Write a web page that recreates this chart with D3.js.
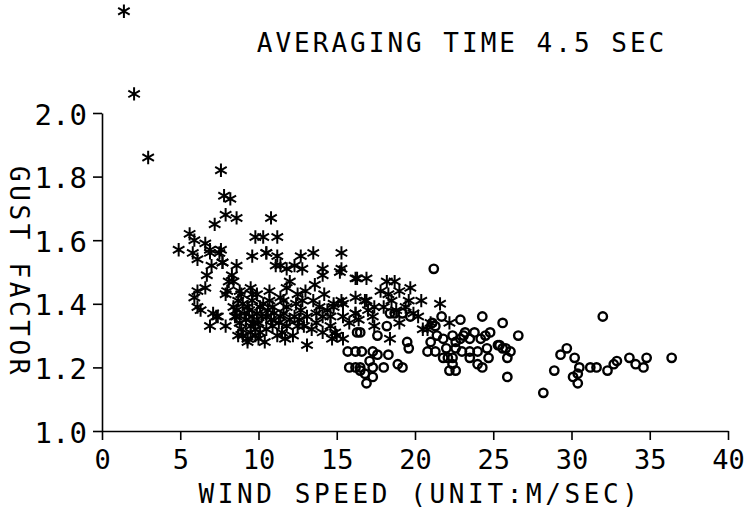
<html>
<head>
<style>
    body { margin: 0; background: #fff; }
    text { font-family: "DejaVu Sans Mono", monospace; fill: #000; }
</style>
</head>
<body>
<script src="https://d3js.org/d3.v7.min.js"></script>
<script>

    // gust factor vs mean wind speed, averaging time 4.5 s
    var title = "AVERAGING TIME 4.5 SEC";
    var xTitle = "WIND SPEED (UNIT:M/SEC)";
    var yTitle = "GUST FACTOR";
    var xTicks = [0, 5, 10, 15, 20, 25, 30, 35, 40];
    var yTicks = [1.0, 1.2, 1.4, 1.6, 1.8, 2.0];

    // asterisks: [wind speed, gust factor]
    var stars = [
        [1.4, 2.32], [2.05, 2.06], [2.95, 1.86],
        [7.6, 1.82], [7.8, 1.74], [8.2, 1.73], [7.9, 1.68], [8.6, 1.67], [7.2, 1.65],
        [10.8, 1.67], [5.6, 1.62], [5.9, 1.60], [9.8, 1.61], [10.3, 1.61], [11.2, 1.61],
        [4.9, 1.57], [6.6, 1.59], [6.9, 1.57], [7.6, 1.57], [9.6, 1.55], [10.5, 1.56],
        [11.2, 1.55], [12.7, 1.55], [13.5, 1.56], [5.8, 1.56], [6.1, 1.54], [7.7, 1.53],
        [7.0, 1.52], [8.6, 1.52], [8.3, 1.49], [6.7, 1.49], [8.4, 1.47], [6.6, 1.45],
        [8.0, 1.44], [6.1, 1.44], [5.9, 1.42], [6.1, 1.39], [6.3, 1.38], [8.8, 1.44],
        [7.1, 1.37], [7.4, 1.36], [6.9, 1.33], [7.9, 1.33], [8.6, 1.36], [9.5, 1.45],
        [9.6, 1.43], [9.3, 1.28],
        [6.9, 1.56], [7.5, 1.56], [10.5, 1.56], [11.4, 1.52], [15.3, 1.56], [7.7, 1.53],
        [11.1, 1.52], [11.8, 1.51], [12.3, 1.52], [12.8, 1.51], [14.1, 1.51], [14.1, 1.49],
        [15.3, 1.51], [16.3, 1.48], [16.9, 1.48], [8.1, 1.47], [12.0, 1.47], [13.6, 1.46],
        [12.5, 1.43], [7.9, 1.43], [8.9, 1.43], [9.9, 1.43], [14.2, 1.43], [16.2, 1.42],
        [16.8, 1.41], [8.7, 1.41], [9.6, 1.41], [10.7, 1.41], [11.6, 1.41], [12.8, 1.41],
        [13.5, 1.41], [15.3, 1.41], [8.4, 1.39], [9.3, 1.39], [10.1, 1.39], [10.9, 1.39],
        [11.8, 1.39], [12.7, 1.38], [13.7, 1.37], [14.8, 1.39], [15.4, 1.40], [16.2, 1.37],
        [8.5, 1.36], [9.6, 1.36], [10.5, 1.36], [11.4, 1.36], [12.3, 1.36], [13.1, 1.36],
        [14.1, 1.36], [15.4, 1.36], [16.4, 1.35], [7.3, 1.36], [8.8, 1.34], [9.5, 1.33],
        [10.5, 1.32], [11.8, 1.33], [12.5, 1.33], [13.7, 1.34], [14.6, 1.33], [15.8, 1.34],
        [10.1, 1.31], [11.5, 1.31], [14.1, 1.31], [15.0, 1.30], [15.4, 1.29], [9.3, 1.29],
        [11.7, 1.29], [13.1, 1.27], [14.7, 1.29],
        [9.0, 1.30], [9.8, 1.30], [10.4, 1.28], [10.9, 1.33], [11.2, 1.30], [8.9, 1.32],
        [9.2, 1.35], [10.0, 1.34], [11.0, 1.37], [12.0, 1.35], [12.9, 1.33], [13.4, 1.32],
        [12.2, 1.30], [9.9, 1.37], [10.3, 1.40], [11.4, 1.42], [12.4, 1.40], [8.6, 1.38],
        [9.4, 1.38], [10.7, 1.44], [13.0, 1.44], [11.8, 1.45],
        [9.1, 1.37], [9.7, 1.34], [10.2, 1.36], [10.6, 1.38], [9.0, 1.40], [9.8, 1.32],
        [10.8, 1.35], [11.3, 1.34], [8.7, 1.30], [9.5, 1.31], [10.0, 1.29], [11.6, 1.37],
        [12.6, 1.35], [13.9, 1.39], [14.4, 1.38], [17.0, 1.38], [18.8, 1.38], [19.7, 1.45],
        [15.2, 1.50], [16.2, 1.48], [18.2, 1.47], [18.7, 1.47], [17.8, 1.44], [18.3, 1.43],
        [19.0, 1.44], [14.8, 1.40], [16.9, 1.41], [18.5, 1.41], [19.6, 1.41], [20.4, 1.41],
        [17.4, 1.39], [18.0, 1.39], [19.4, 1.39], [21.6, 1.40], [16.2, 1.37], [14.6, 1.36],
        [17.3, 1.36], [19.9, 1.37], [20.2, 1.36], [22.2, 1.34], [19.0, 1.34], [17.4, 1.33],
        [20.8, 1.32], [21.0, 1.34], [14.9, 1.31], [18.4, 1.29], [20.5, 1.32]
    ];

    // circles: [wind speed, gust factor]
    var circles = [
        [21.2, 1.51], [18.4, 1.37], [18.7, 1.37], [19.2, 1.37], [19.7, 1.36], [21.7, 1.36],
        [22.9, 1.35], [24.3, 1.36], [25.6, 1.34], [18.2, 1.33], [17.6, 1.30], [16.3, 1.31],
        [16.5, 1.31], [21.1, 1.34], [21.3, 1.33], [21.4, 1.30], [21.8, 1.29], [22.4, 1.30],
        [23.1, 1.30], [23.2, 1.31], [23.8, 1.31], [24.5, 1.30], [24.8, 1.31], [24.2, 1.29],
        [23.5, 1.29], [22.9, 1.29], [22.6, 1.28], [21.0, 1.28], [21.3, 1.25], [22.0, 1.26],
        [22.6, 1.26], [23.0, 1.25], [23.5, 1.25], [24.0, 1.25], [24.6, 1.26], [25.3, 1.27],
        [25.6, 1.26], [26.1, 1.25], [26.6, 1.30], [20.8, 1.25], [21.8, 1.23], [22.1, 1.23],
        [22.4, 1.23], [23.5, 1.23], [24.7, 1.23], [25.9, 1.23], [22.4, 1.21], [24.0, 1.21],
        [22.2, 1.19], [22.6, 1.19], [24.3, 1.20], [25.9, 1.17], [19.5, 1.28], [19.6, 1.26],
        [18.3, 1.24], [18.9, 1.21], [19.2, 1.20], [15.7, 1.25], [16.2, 1.25], [16.6, 1.25],
        [17.6, 1.24], [17.3, 1.25], [15.8, 1.20], [16.2, 1.20], [16.5, 1.20], [17.1, 1.22],
        [17.3, 1.20], [18.0, 1.20], [16.8, 1.18], [17.3, 1.17], [16.9, 1.15], [16.5, 1.19],
        [25.4, 1.27], [25.8, 1.26], [28.2, 1.12], [28.9, 1.19], [29.3, 1.24], [29.7, 1.26],
        [30.2, 1.23], [30.5, 1.20], [30.4, 1.18], [30.1, 1.17], [30.4, 1.15], [31.2, 1.20],
        [31.6, 1.20], [32.3, 1.19], [32.7, 1.21], [32.9, 1.22], [32.0, 1.36], [33.7, 1.23],
        [34.1, 1.21], [34.6, 1.20], [34.8, 1.23], [36.4, 1.23]
    ];

    var width = 745, height = 512;
    var margin = { top: 113, right: 17, bottom: 81, left: 102 };

    var x = d3.scaleLinear()
        .domain([0, 40])
        .range([margin.left, width - margin.right]);

    var y = d3.scaleLinear()
        .domain([1, 2])
        .range([height - margin.bottom, margin.top]);

    var svg = d3.select("body").append("svg")
        .attr("width", width)
        .attr("height", height);

    // x axis
    var gx = svg.append("g")
        .attr("transform", "translate(0," + y(1) + ")")
        .call(d3.axisBottom(x).tickValues(xTicks).tickSize(9).tickSizeOuter(0).tickPadding(10));
    gx.selectAll("text")
        .attr("font-family", "DejaVu Sans Mono")
        .attr("font-size", 27);

    // y axis
    var gy = svg.append("g")
        .attr("transform", "translate(" + x(0) + ",0)")
        .call(d3.axisLeft(y).tickValues(yTicks).tickSize(9).tickSizeOuter(0).tickPadding(6)
            .tickFormat(d3.format(".1f")));
    gy.selectAll("text")
        .attr("font-family", "DejaVu Sans Mono")
        .attr("font-size", 29)
        .attr("dy", "0.38em");

    svg.selectAll(".domain, .tick line")
        .attr("stroke", "#000")
        .attr("stroke-width", 1.6);

    // points
    var star = d3.symbol().type(d3.symbolAsterisk).size(125);
    svg.append("g")
        .selectAll("path").data(stars)
        .enter().append("path")
        .attr("transform", function(d) { return "translate(" + x(d[0]) + "," + y(d[1]) + ")"; })
        .attr("d", star)
        .attr("fill", "none")
        .attr("stroke", "#000")
        .attr("stroke-width", 2);

    svg.append("g")
        .selectAll("circle").data(circles)
        .enter().append("circle")
        .attr("cx", function(d) { return x(d[0]); })
        .attr("cy", function(d) { return y(d[1]); })
        .attr("r", 4.2)
        .attr("fill", "none")
        .attr("stroke", "#000")
        .attr("stroke-width", 2.4);

    // titles
    svg.append("text")
        .attr("x", 462)
        .attr("y", 52)
        .attr("text-anchor", "middle")
        .attr("font-size", 26)
        .attr("letter-spacing", 3)
        .text(title);

    svg.append("text")
        .attr("x", 420)
        .attr("y", 503)
        .attr("text-anchor", "middle")
        .attr("font-size", 26)
        .attr("letter-spacing", 3.6)
        .text(xTitle);

    svg.append("text")
        .attr("transform", "translate(10,272) rotate(90)")
        .attr("text-anchor", "middle")
        .attr("font-size", 26)
        .attr("letter-spacing", 3.6)
        .text(yTitle);

</script>
</body>
</html>
